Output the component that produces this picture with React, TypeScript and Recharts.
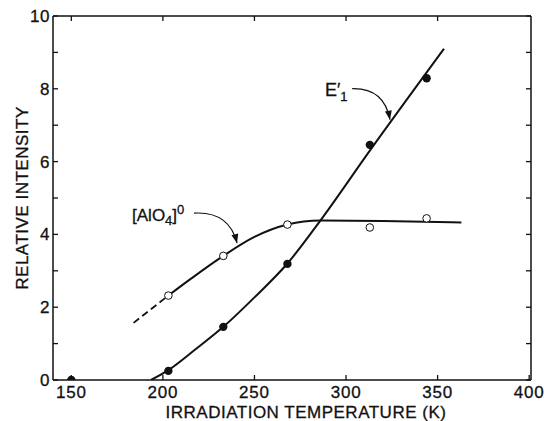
import React from 'react';
import { ComposedChart, Line, Scatter, XAxis, YAxis, ReferenceDot, ReferenceLine } from 'recharts';

// measured points
const tempPts = [150, 203, 233, 268, 313, 344];
const e1Pts = [0, 0.25, 1.46, 3.19, 6.46, 8.29];
const alo4TempPts = [203, 233, 268, 313, 344];
const alo4Pts = [2.32, 3.41, 4.27, 4.19, 4.44];

// drawn curves
const e1CurveX = [193.5, 203, 218, 233, 250, 268, 286, 313, 353.5];
const e1CurveY = [0, 0.27, 0.85, 1.46, 2.27, 3.2, 4.38, 6.3, 9.1];
const alo4CurveX = [203, 215, 233, 250, 268, 286, 320, 363];
const alo4CurveY = [2.32, 2.77, 3.41, 3.93, 4.27, 4.38, 4.37, 4.33];
const alo4DashX = [184, 203];
const alo4DashY = [1.57, 2.32];

const xTicks = [150, 200, 250, 300, 350, 400];
const topTicks = [150, 200, 250, 300, 350];
const yTicks = [0, 1, 2, 3, 4, 5, 6, 7, 8, 9, 10];

const zip = (xs: number[], ys: number[]) => xs.map((x, i) => ({ x, y: ys[i] }));

const FONT = '"Liberation Sans", Arial, sans-serif';
const INK = '#111';
const MARGIN = { top: 16, right: 13, bottom: 0, left: 13 };
const W = 544;
const PLOT_TOP = MARGIN.top;
const PLOT_RIGHT = W - MARGIN.right;

const textProps = { fontFamily: FONT, fill: INK, stroke: INK, strokeWidth: 0.3 };

const XTick = (props: any) => {
  const { x, y, payload } = props;
  return (
    <g>
      <line x1={x} y1={y} x2={x} y2={y - 5} stroke={INK} strokeWidth={1.3} />
      {topTicks.includes(payload.value) && (
        <line x1={x} y1={PLOT_TOP} x2={x} y2={PLOT_TOP + 5} stroke={INK} strokeWidth={1.3} />
      )}
      <text x={x} y={y + 18} textAnchor="middle" fontSize={17} letterSpacing={0.8} {...textProps}>
        {payload.value}
      </text>
    </g>
  );
};

const YTick = (props: any) => {
  const { x, y, payload } = props;
  const v = payload.value;
  return (
    <g>
      <line x1={x} y1={y} x2={x + 5} y2={y} stroke={INK} strokeWidth={1.3} />
      <line x1={PLOT_RIGHT} y1={y} x2={PLOT_RIGHT - 5} y2={y} stroke={INK} strokeWidth={1.3} />
      {v % 2 === 0 && (
        <text x={x - 3} y={y + 6} textAnchor="end" fontSize={17} letterSpacing={0.5} {...textProps}>
          {v}
        </text>
      )}
    </g>
  );
};

const XTitle = (props: any) => {
  const { viewBox } = props;
  return (
    <text x={viewBox.x + viewBox.width / 2 + 14} y={viewBox.y + 38} textAnchor="middle"
      fontSize={17} letterSpacing={0.5} {...textProps}>
      IRRADIATION TEMPERATURE (K)
    </text>
  );
};

const YTitle = (props: any) => {
  const { viewBox } = props;
  const cx = 28;
  const cy = viewBox.y + viewBox.height / 2;
  return (
    <text x={cx} y={cy} transform={`rotate(-90, ${cx}, ${cy})`} textAnchor="middle"
      fontSize={17} letterSpacing={0.5} {...textProps}>
      RELATIVE INTENSITY
    </text>
  );
};

// arrowhead at the origin, pointing away from the control point
function arrowHead(cpx: number, cpy: number) {
  const len = Math.hypot(cpx, cpy);
  const dx = -cpx / len;
  const dy = -cpy / len;
  const bx = -dx * 9;
  const by = -dy * 9;
  const px = -dy * 3.5;
  const py = dx * 3.5;
  return `M0,0 L${bx + px},${by + py} L${bx - px},${by - py} Z`;
}

const E1Note = (props: any) => {
  const { cx, cy } = props;
  return (
    <g transform={`translate(${cx},${cy})`}>
      <path d="M-38,-31 Q-6,-32 0,0" fill="none" stroke={INK} strokeWidth={1.2} />
      <path d={arrowHead(-6, -32)} fill={INK} />
      <text x={-65} y={-24} fontSize={18} {...textProps}>
        E′<tspan fontSize={13} dy={5}>1</tspan>
      </text>
    </g>
  );
};

const AlO4Note = (props: any) => {
  const { cx, cy } = props;
  return (
    <g transform={`translate(${cx},${cy})`}>
      <path d="M-43,-30 Q-8,-32 0,0" fill="none" stroke={INK} strokeWidth={1.2} />
      <path d={arrowHead(-8, -32)} fill={INK} />
      <text x={-105} y={-22} fontSize={17} {...textProps}>
        [AlO<tspan fontSize={13} dy={4}>4</tspan>
        <tspan dy={-4}>]</tspan>
        <tspan fontSize={13} dy={-7}>0</tspan>
      </text>
    </g>
  );
};

const FilledDot = (props: any) => <circle cx={props.cx} cy={props.cy} r={4.2} fill={INK} />;
const OpenDot = (props: any) => (
  <circle cx={props.cx} cy={props.cy} r={3.8} fill="#fff" stroke={INK} strokeWidth={1} />
);

export default function App() {
  return (
    <div style={{ position: 'absolute', left: 0, top: 0, width: W, height: 421, background: '#fff' }}>
      <ComposedChart width={W} height={421} margin={MARGIN}>
        <XAxis
          dataKey="x"
          type="number"
          domain={[140, 401]}
          ticks={xTicks}
          allowDataOverflow
          height={41}
          tickSize={0}
          tickMargin={0}
          tickLine={false}
          tick={<XTick />}
          axisLine={{ stroke: INK, strokeWidth: 1.5 }}
          label={<XTitle />}
        />
        <YAxis
          dataKey="y"
          type="number"
          domain={[0, 10]}
          ticks={yTicks}
          allowDataOverflow
          width={40}
          tickSize={0}
          tickMargin={0}
          tickLine={false}
          tick={<YTick />}
          axisLine={{ stroke: INK, strokeWidth: 1.5 }}
          label={<YTitle />}
        />
        <ReferenceLine y={10} stroke={INK} strokeWidth={1.5} />
        <ReferenceLine x={401} stroke={INK} strokeWidth={1.5} />
        <Line data={zip(alo4DashX, alo4DashY)} dataKey="y" type="linear" stroke={INK} strokeWidth={1.8}
          strokeDasharray="7 4" dot={false} activeDot={false} isAnimationActive={false} />
        <Line data={zip(alo4CurveX, alo4CurveY)} dataKey="y" type="monotone" stroke={INK} strokeWidth={2}
          dot={false} activeDot={false} isAnimationActive={false} />
        <Line data={zip(e1CurveX, e1CurveY)} dataKey="y" type="monotone" stroke={INK} strokeWidth={2}
          dot={false} activeDot={false} isAnimationActive={false} />
        <Scatter data={zip(tempPts, e1Pts)} dataKey="y" shape={<FilledDot />} isAnimationActive={false} />
        <Scatter data={zip(alo4TempPts, alo4Pts)} dataKey="y" shape={<OpenDot />} isAnimationActive={false} />
        <ReferenceDot x={324} y={7.15} r={0} shape={<E1Note />} ifOverflow="visible" />
        <ReferenceDot x={240.5} y={3.76} r={0} shape={<AlO4Note />} ifOverflow="visible" />
      </ComposedChart>
    </div>
  );
}
